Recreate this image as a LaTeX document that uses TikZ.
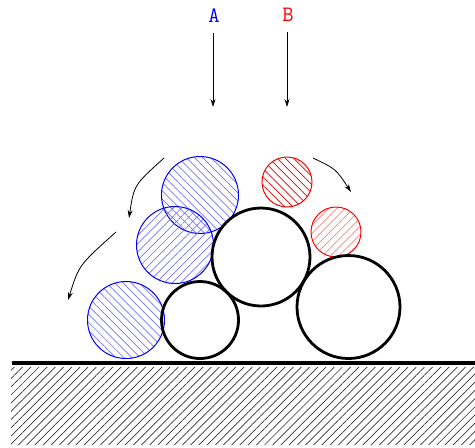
\documentclass[tikz,border=0pt]{standalone}
\usetikzlibrary{patterns.meta}
\usetikzlibrary{arrows.meta}

\tikzset{
  ball/.style={line width=1.4pt},
  grain/.style={line width=0.5pt},
  fall/.style={-{Stealth[length=4pt,width=2.5pt]}, line width=0.4pt},
  tag/.style={font=\ttfamily\fontsize{11}{13}\selectfont, inner sep=0pt},
  hatchNE/.style={pattern={Lines[angle=45, distance=2.9pt, line width=0.35pt]}},
  hatchNW/.style={pattern={Lines[angle=-45, distance=2.9pt, line width=0.35pt]}},
}

\begin{document}
\begin{tikzpicture}[x=0.5pt, y=-0.5pt]
    \useasboundingbox (0,0) rectangle (475,447);

    % ground
    \fill[hatchNE, pattern color=black!80] (11,367) rectangle (475,444);
    \draw[line width=2pt] (12,363) -- (475,363);

    % falling grains
    \draw[grain, blue, hatchNW, pattern color=blue!55] (200,195) circle (38.5);
    \draw[grain, blue, hatchNE, pattern color=blue!55] (175,245) circle (38.5);
    \draw[grain, blue, hatchNW, pattern color=blue!55] (126,320) circle (38.5);
    \draw[grain, red, hatchNW, pattern color=red!90!black] (287,182) circle (25);
    \draw[grain, red, hatchNE, pattern color=red!50] (336,232) circle (25);

    % pile
    \draw[ball] (200,320) circle (38.5);
    \draw[ball] (261,257) circle (49);
    \draw[ball] (348.5,307) circle (51.5);

    % drop points
    \node[tag, text=blue] (A) at (214,16) {A};
    \node[tag, text=red] (B) at (288,15) {B};
    \coordinate (Aend) at (213,107);
    \coordinate (Bend) at (287,107);
    \draw[fall] (A.south -| Aend) ++(0,10) -- (Aend);
    \draw[fall] (B.south -| Bend) ++(0,10) -- (Bend);

    % rolling
    \coordinate (r1) at (164,158);
    \coordinate (r1end) at (129,218);
    \coordinate (r2) at (116,232);
    \coordinate (r2end) at (68,300);
    \coordinate (r3) at (313,158);
    \coordinate (r3end) at (351,192);
    \draw[fall] (r1) .. controls (134,185) .. (r1end);
    \draw[fall] (r2) .. controls (79,265) .. (r2end);
    \draw[fall] (r3) .. controls (336,169) .. (r3end);
\end{tikzpicture}
\end{document}
